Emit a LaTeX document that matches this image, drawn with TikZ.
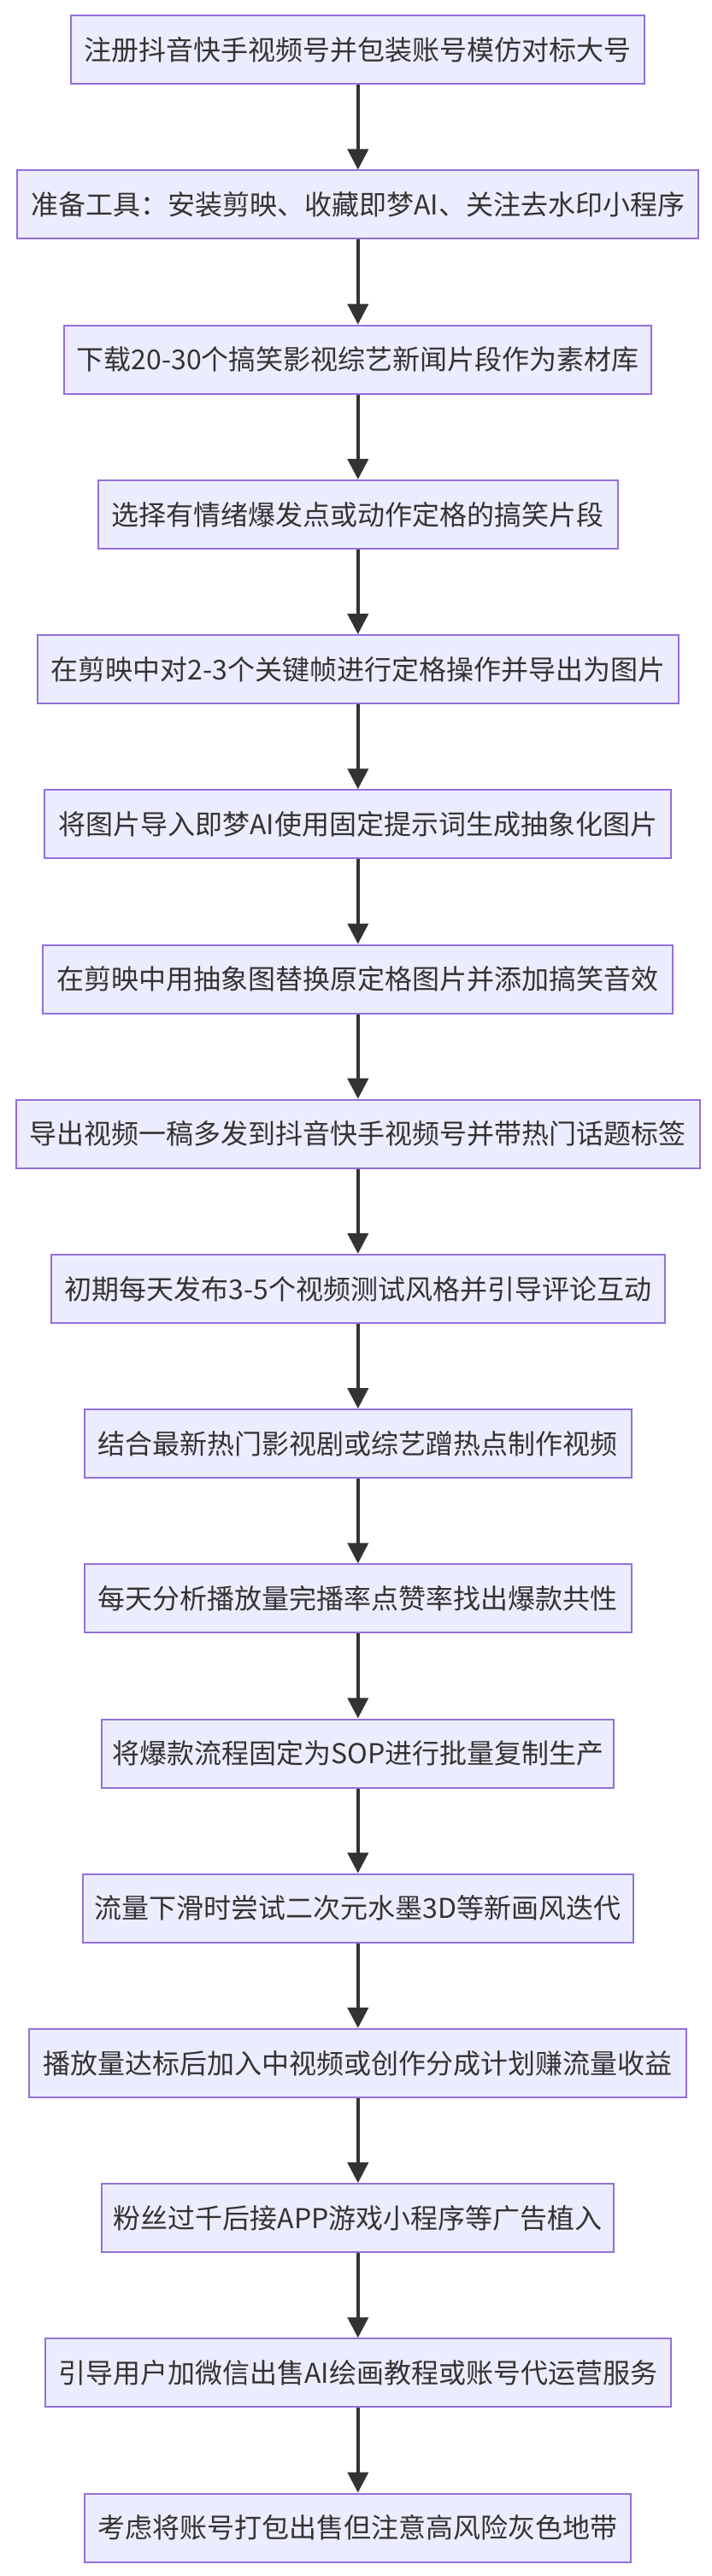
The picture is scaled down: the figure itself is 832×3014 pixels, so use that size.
\documentclass[tikz,border=0pt]{standalone}
\usepackage{fontspec}
\setmainfont{Noto Sans CJK SC}
\usetikzlibrary{arrows.meta}
\definecolor{boxfill}{HTML}{ECECFF}
\definecolor{boxline}{HTML}{9370DB}
\definecolor{ink}{HTML}{333333}
\tikzset{
  stepbox/.style={draw=boxline, fill=boxfill, line width=1.5pt, rectangle,
    inner sep=0pt, minimum height=60pt, text=ink,
    font=\fontsize{24pt}{28pt}\selectfont},
  flowarrow/.style={draw=ink, line width=3pt,
    -{Triangle[length=18pt,width=18pt]}}
}
\begin{document}
\begin{tikzpicture}[x=0.75pt,y=-0.75pt]
\useasboundingbox (0,0) rectangle (832,3014);
\node[stepbox, minimum width=503.25pt] (n1) at (418.8,58.3) {注册抖音快手视频号并包装账号模仿对标大号};
\node[stepbox, minimum width=597.75pt] (n2) at (418.8,239.5) {准备工具：安装剪映、收藏即梦AI、关注去水印小程序};
\node[stepbox, minimum width=515.25pt] (n3) at (418.8,420.7) {下载20-30个搞笑影视综艺新闻片段作为素材库};
\node[stepbox, minimum width=456pt] (n4) at (418.8,601.9) {选择有情绪爆发点或动作定格的搞笑片段};
\node[stepbox, minimum width=562.5pt] (n5) at (418.8,783.1) {在剪映中对2-3个关键帧进行定格操作并导出为图片};
\node[stepbox, minimum width=549.75pt] (n6) at (418.8,964.3) {将图片导入即梦AI使用固定提示词生成抽象化图片};
\node[stepbox, minimum width=552.75pt] (n7) at (418.8,1145.5) {在剪映中用抽象图替换原定格图片并添加搞笑音效};
\node[stepbox, minimum width=600pt] (n8) at (418.8,1326.7) {导出视频一稿多发到抖音快手视频号并带热门话题标签};
\node[stepbox, minimum width=538.1pt] (n9) at (418.8,1507.9) {初期每天发布3-5个视频测试风格并引导评论互动};
\node[stepbox, minimum width=480pt] (n10) at (418.8,1689.1) {结合最新热门影视剧或综艺蹭热点制作视频};
\node[stepbox, minimum width=480pt] (n11) at (418.8,1870.3) {每天分析播放量完播率点赞率找出爆款共性};
\node[stepbox, minimum width=449.25pt] (n12) at (418.8,2051.5) {将爆款流程固定为SOP进行批量复制生产};
\node[stepbox, minimum width=483pt] (n13) at (418.8,2232.7) {流量下滑时尝试二次元水墨3D等新画风迭代};
\node[stepbox, minimum width=576.75pt] (n14) at (418.8,2413.9) {播放量达标后加入中视频或创作分成计划赚流量收益};
\node[stepbox, minimum width=449.25pt] (n15) at (418.8,2595.1) {粉丝过千后接APP游戏小程序等广告植入};
\node[stepbox, minimum width=549pt] (n16) at (418.8,2776.3) {引导用户加微信出售AI绘画教程或账号代运营服务};
\node[stepbox, minimum width=479.25pt] (n17) at (418.8,2957.5) {考虑将账号打包出售但注意高风险灰色地带};
\draw[flowarrow] (n1) -- (n2);
\draw[flowarrow] (n2) -- (n3);
\draw[flowarrow] (n3) -- (n4);
\draw[flowarrow] (n4) -- (n5);
\draw[flowarrow] (n5) -- (n6);
\draw[flowarrow] (n6) -- (n7);
\draw[flowarrow] (n7) -- (n8);
\draw[flowarrow] (n8) -- (n9);
\draw[flowarrow] (n9) -- (n10);
\draw[flowarrow] (n10) -- (n11);
\draw[flowarrow] (n11) -- (n12);
\draw[flowarrow] (n12) -- (n13);
\draw[flowarrow] (n13) -- (n14);
\draw[flowarrow] (n14) -- (n15);
\draw[flowarrow] (n15) -- (n16);
\draw[flowarrow] (n16) -- (n17);
\end{tikzpicture}
\end{document}
